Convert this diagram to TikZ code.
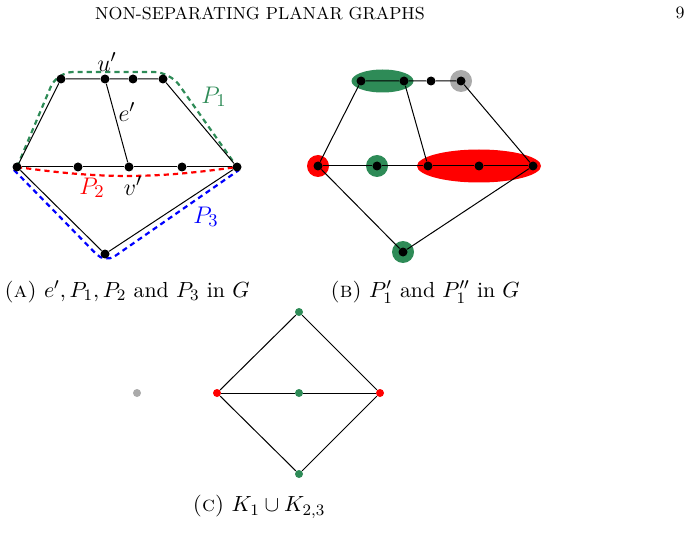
\documentclass[tikz,border=0pt]{standalone}
\usetikzlibrary{calc, backgrounds}
\definecolor{pgreen}{RGB}{46,139,87}
\definecolor{pgray}{RGB}{170,170,170}

\begin{document}
\begin{tikzpicture}[x=0.5pt, y=-0.5pt,
      vtx/.style={circle, fill=black, inner sep=0pt, minimum size=4.5pt},
      cvtx/.style={circle, inner sep=0pt, minimum size=4pt},
      edge/.style={line width=0.5pt},
      route/.style={line width=1.1pt, dash pattern=on 2.6pt off 2pt},
      lbl/.style={font=\fontsize{13}{15}\selectfont},
      captext/.style={font=\fontsize{10.9}{13}\selectfont},
      headtext/.style={font=\fontsize{8.7}{10}\selectfont}
    ]
    \useasboundingbox (0,0) rectangle (695,545);

    % running head
    \node[headtext] (title) at (260,13) {NON-SEPARATING PLANAR GRAPHS};
    \node[headtext] (pageno) at (680,13) {9};

    % (a) the graph G with the paths
    \node[vtx] (a-t1) at (61,79) {};
    \node[vtx] (a-t2) at (105,79) {};
    \node[vtx] (a-t3) at (133,79) {};
    \node[vtx] (a-t4) at (163,79) {};
    \node[vtx] (a-m1) at (17,167) {};
    \node[vtx] (a-m2) at (78,167) {};
    \node[vtx] (a-m3) at (129,167) {};
    \node[vtx] (a-m4) at (182,167) {};
    \node[vtx] (a-m5) at (237,167) {};
    \node[vtx] (a-b) at (105,254) {};

    \begin{scope}[on background layer]
      \draw[route, pgreen, rounded corners=8] (a-m1.center) -- (57,72) -- (170,72) -- (a-m5.center);
      \draw[route, red] (a-m1.center) to[bend right=8] (a-m5.center);
      \draw[route, blue, rounded corners=6] (14,170) -- (105,263) -- (239,170);
      \draw[edge] (a-m1) -- (a-t1) -- (a-t2) -- (a-t3) -- (a-t4) -- (a-m5);
      \draw[edge] (a-m1) -- (a-m2) -- (a-m3) -- (a-m4) -- (a-m5);
      \draw[edge] (a-t2) -- (a-m3);
      \draw[edge] (a-m1) -- (a-b) -- (a-m5);
    \end{scope}

    \node[lbl] (lu) at (107,62) {$u'$};
    \node[lbl] (le) at (127,112) {$e'$};
    \node[lbl, text=pgreen] (lp1) at (214,97) {$P_1$};
    \node[lbl, text=red] (lp2) at (92,188) {$P_2$};
    \node[lbl] (lv) at (133,186) {$v'$};
    \node[lbl, text=blue] (lp3) at (206,217) {$P_3$};

    \node[captext] (capa) at (127,292) {\textsc{(a)} $e', P_1, P_2$ and $P_3$ in $G$};

    % (b) the two subpaths
    \node[vtx] (b-t1) at (361,81) {};
    \node[vtx] (b-t2) at (404,81) {};
    \node[vtx] (b-t3) at (431,81) {};
    \node[vtx] (b-t4) at (461,81) {};
    \node[vtx] (b-m1) at (318,166) {};
    \node[vtx] (b-m2) at (377,166) {};
    \node[vtx] (b-m3) at (428,166) {};
    \node[vtx] (b-m4) at (479,166) {};
    \node[vtx] (b-m5) at (533,166) {};
    \node[vtx] (b-b) at (403,252) {};

    \begin{scope}[on background layer]
      \fill[pgreen] ($(b-t1)!0.5!(b-t2)$) ellipse [x radius=31, y radius=11.5];
      \fill[pgray] (b-t4) circle [radius=11];
      \fill[red] (b-m1) circle [radius=11];
      \fill[pgreen] (b-m2) circle [radius=11];
      \fill[red] (b-m4) ellipse [x radius=62, y radius=16.5];
      \fill[pgreen] (b-b) circle [radius=11];
      \draw[edge] (b-m1) -- (b-t1) -- (b-t2) -- (b-t3) -- (b-t4) -- (b-m5);
      \draw[edge] (b-m1) -- (b-m2) -- (b-m3) -- (b-m4) -- (b-m5);
      \draw[edge] (b-t2) -- (b-m3);
      \draw[edge] (b-m1) -- (b-b) -- (b-m5);
    \end{scope}

    \node[captext] (capb) at (425,292) {\textsc{(b)} $P_1'$ and $P_1''$ in $G$};

    % (c) the contracted graph
    \node[cvtx, fill=pgreen] (c-t) at (299,312) {};
    \node[cvtx, fill=red] (c-l) at (217,393) {};
    \node[cvtx, fill=pgreen] (c-m) at (299,393) {};
    \node[cvtx, fill=red] (c-r) at (380,393) {};
    \node[cvtx, fill=pgreen] (c-b) at (299,474) {};
    \node[cvtx, fill=pgray] (c-k) at (137,393) {};

    \begin{scope}[on background layer]
      \draw[edge] (c-l) -- (c-t) -- (c-r) -- (c-b) -- (c-l);
      \draw[edge] (c-l) -- (c-m) -- (c-r);
    \end{scope}

    \node[captext] (capc) at (259,507) {\textsc{(c)} $K_1 \cup K_{2,3}$};
\end{tikzpicture}
\end{document}
